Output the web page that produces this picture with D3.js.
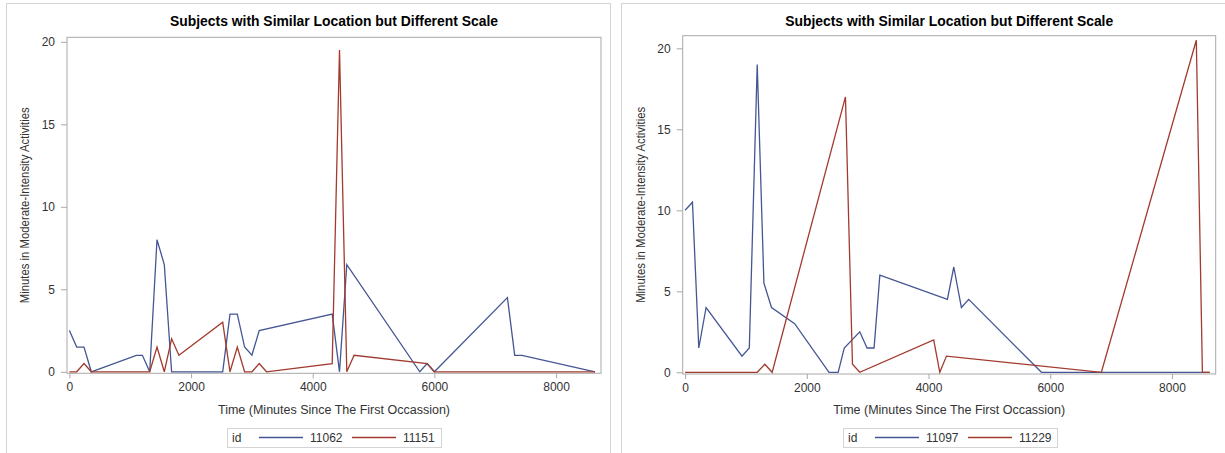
<!DOCTYPE html>
<html>
<head>
<meta charset="utf-8">
<script src="https://cdn.jsdelivr.net/npm/d3@7"></script>
<style>
  html, body { margin: 0; padding: 0; background: #fff; }
  svg { display: block; }
  text { font-family: "Liberation Sans", Arial, sans-serif; }
</style>
</head>
<body>
<svg id="chart" width="1225" height="453"></svg>
<script>
// ---------------- DATA ----------------
const chartTitle = "Subjects with Similar Location but Different Scale";
const xAxisLabel = "Time (Minutes Since The First Occassion)";
const yAxisLabel = "Minutes in Moderate-Intensity Activities";
const legendTitle = "id";
const xTickValues = [0, 2000, 4000, 6000, 8000];
const yTickValues = [0, 5, 10, 15, 20];

// Left panel
const leftIds = ["11062", "11151"];
const time11062 = [0, 120, 240, 360, 1100, 1200, 1320, 1440, 1560, 1680, 2520, 2640, 2760, 2880, 3000, 3120, 4320, 4440, 4560, 5760, 5880, 6000, 7200, 7320, 7440, 8640];
const mins11062 = [2.5, 1.5, 1.5, 0, 1, 1, 0, 8, 6.5, 0, 0, 3.5, 3.5, 1.5, 1, 2.5, 3.5, 0, 6.5, 0, 0.5, 0, 4.5, 1, 1, 0];
const time11151 = [0, 120, 240, 360, 1320, 1440, 1560, 1680, 1800, 2520, 2640, 2760, 2880, 3000, 3120, 3240, 4320, 4440, 4560, 4680, 5880, 6000, 8640];
const mins11151 = [0, 0, 0.5, 0, 0, 1.5, 0, 2, 1, 3, 0, 1.5, 0, 0, 0.5, 0, 0.5, 19.5, 0, 1, 0.5, 0, 0];

// Right panel
const rightIds = ["11097", "11229"];
const time11097 = [0, 121, 225, 345, 935, 1055, 1185, 1295, 1420, 1800, 2365, 2515, 2615, 2870, 2990, 3105, 3200, 4310, 4415, 4540, 4660, 5855, 8620];
const mins11097 = [10, 10.5, 1.5, 4, 1, 1.5, 19, 5.5, 4, 3, 0, 0, 1.5, 2.5, 1.5, 1.5, 6, 4.5, 6.5, 4, 4.5, 0, 0];
const time11229 = [0, 1185, 1310, 1430, 2635, 2750, 2870, 4085, 4185, 4295, 6840, 8400, 8500, 8620];
const mins11229 = [0, 0, 0.5, 0, 17, 0.5, 0, 2, 0, 1, 0, 20.5, 0, 0];

const seriesColors = ["#445694", "#A23A2E"];

// ---------------- LAYOUT ----------------
const panels = [
  {
    ids: leftIds,
    series: [d3.zip(time11062, mins11062), d3.zip(time11151, mins11151)],
    border: { l: 6, t: 3, r: 610 },
    frame: { l: 67, r: 601, t: 37.3, b: 373.3 },
    yRange: [371.8, 41.8],
    yLabelX: 25,
    legendX: 227
  },
  {
    ids: rightIds,
    series: [d3.zip(time11097, mins11097), d3.zip(time11229, mins11229)],
    border: { l: 621, t: 3, r: 1240 },
    frame: { l: 682.7, r: 1215.7, t: 35.7, b: 374 },
    yRange: [372.3, 48.3],
    yLabelX: 641,
    legendX: 843
  }
];

const svg = d3.select("#chart");

panels.forEach(p => {
  const g = svg.append("g");
  const f = p.frame;

  // panel border
  g.append("path")
    .attr("d", `M${p.border.l + 0.5},460V${p.border.t + 0.5}H${p.border.r + 0.5}V460`)
    .attr("fill", "none")
    .attr("stroke", "#d4d4d4")
    .attr("stroke-width", 1);

  const allTimes = p.series.flatMap(s => s.map(d => d[0]));
  const x = d3.scaleLinear()
    .domain([0, d3.max(allTimes)])
    .range([f.l + 2.4, f.r - 6]);
  const y = d3.scaleLinear()
    .domain([0, 20])
    .range(p.yRange);

  // frame
  g.append("rect")
    .attr("x", f.l).attr("y", f.t)
    .attr("width", f.r - f.l).attr("height", f.b - f.t)
    .attr("fill", "#fff")
    .attr("stroke", "#a9a9a9")
    .attr("stroke-width", 1);

  // x axis
  const xAxis = g.append("g")
    .attr("transform", `translate(0,${f.b})`)
    .call(d3.axisBottom(x).tickValues(xTickValues).tickSize(5).tickPadding(4).tickFormat(d3.format("d")));
  xAxis.select(".domain").remove();
  xAxis.selectAll(".tick line").attr("stroke", "#a9a9a9");
  xAxis.selectAll(".tick text")
    .attr("fill", "#333")
    .style("font-size", "12px")
    .style("font-family", "'Liberation Sans', Arial, sans-serif");

  // y axis
  const yAxis = g.append("g")
    .attr("transform", `translate(${f.l},0)`)
    .call(d3.axisLeft(y).tickValues(yTickValues).tickSize(6).tickPadding(6).tickFormat(d3.format("d")));
  yAxis.select(".domain").remove();
  yAxis.selectAll(".tick line").attr("stroke", "#a9a9a9");
  yAxis.selectAll(".tick text")
    .attr("fill", "#333")
    .style("font-size", "12px")
    .style("font-family", "'Liberation Sans', Arial, sans-serif");

  // lines
  const line = d3.line().x(d => x(d[0])).y(d => y(d[1]));
  p.series.forEach((s, i) => {
    g.append("path")
      .datum(s)
      .attr("d", line)
      .attr("fill", "none")
      .attr("stroke", seriesColors[i])
      .attr("stroke-width", 1.3)
      .attr("stroke-linejoin", "miter");
  });

  const cx = (f.l + f.r) / 2;

  // title
  g.append("text")
    .attr("x", cx).attr("y", 26)
    .attr("text-anchor", "middle")
    .style("font-size", "13.9px")
    .style("font-weight", "bold")
    .attr("fill", "#000")
    .text(chartTitle);

  // x label
  g.append("text")
    .attr("x", cx).attr("y", 414)
    .attr("text-anchor", "middle")
    .style("font-size", "12.5px")
    .attr("fill", "#333")
    .attr("textLength", 232)
    .attr("lengthAdjust", "spacingAndGlyphs")
    .text(xAxisLabel);

  // y label
  g.append("text")
    .attr("transform", `translate(${p.yLabelX + 4},${(f.t + f.b) / 2}) rotate(-90)`)
    .attr("text-anchor", "middle")
    .style("font-size", "12.5px")
    .attr("fill", "#333")
    .attr("textLength", 196)
    .attr("lengthAdjust", "spacingAndGlyphs")
    .text(yAxisLabel);

  // legend
  const lg = g.append("g").attr("transform", `translate(${p.legendX},428)`);
  lg.append("rect")
    .attr("x", 0.5).attr("y", 0.5)
    .attr("width", 214).attr("height", 19)
    .attr("fill", "#fff")
    .attr("stroke", "#d4d4d4");
  lg.append("text")
    .attr("x", 5).attr("y", 14)
    .style("font-size", "12px")
    .attr("fill", "#333")
    .text(legendTitle);
  p.ids.forEach((id, i) => {
    const ox = 32 + i * 93;
    lg.append("line")
      .attr("x1", ox).attr("x2", ox + 44)
      .attr("y1", 9.5).attr("y2", 9.5)
      .attr("stroke", seriesColors[i])
      .attr("stroke-width", 1.3);
    lg.append("text")
      .attr("x", ox + 51).attr("y", 14)
      .style("font-size", "12px")
      .attr("fill", "#333")
      .text(id);
  });
});
</script>
</body>
</html>
